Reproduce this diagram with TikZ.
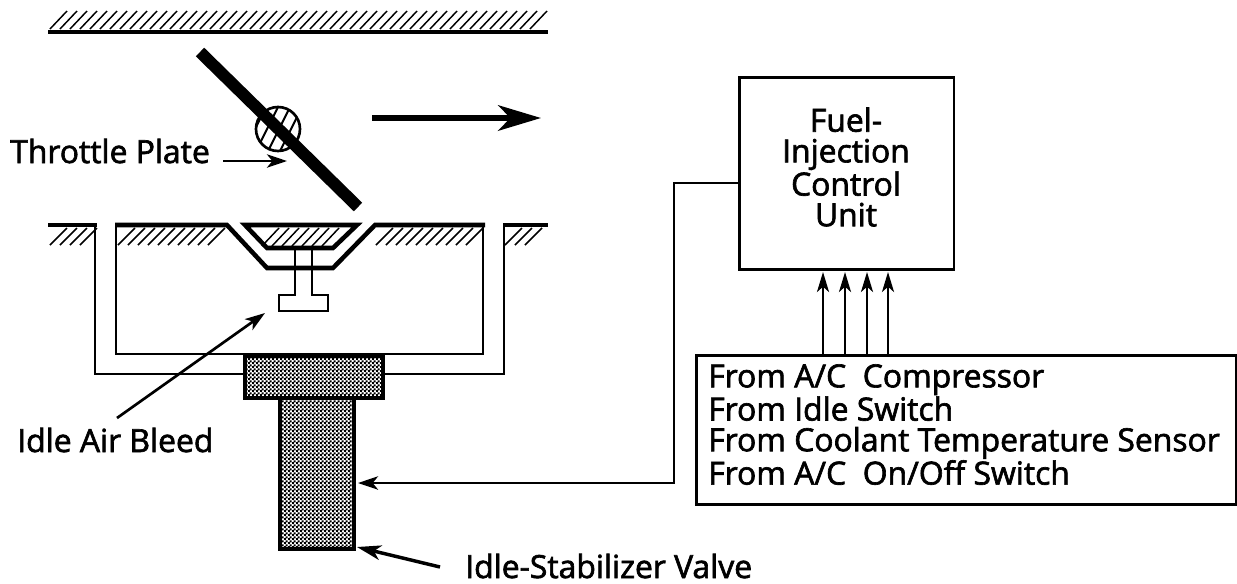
\documentclass[tikz,border=0pt]{standalone}
\usepackage{fontspec}
\setmainfont{Open Sans}[RawFeature={embolden=2}]
\usetikzlibrary{arrows.meta,patterns}
\pgfdeclarepatternformonly{dither}{\pgfqpoint{0pt}{0pt}}{\pgfqpoint{3pt}{3pt}}{\pgfqpoint{3pt}{3pt}}{
  \pgfpathrectangle{\pgfqpoint{0pt}{0pt}}{\pgfqpoint{1.8pt}{1.8pt}}
  \pgfpathrectangle{\pgfqpoint{1.5pt}{1.5pt}}{\pgfqpoint{1.8pt}{1.8pt}}
  \pgfusepath{fill}}
\tikzset{
  wall/.style={line width=3.4pt},
  thin wire/.style={line width=2pt},
  hatchline/.style={line width=1.1pt},
  lab/.style={inner sep=0pt,font=\fontsize{23.9}{29}\selectfont,text=black},
  solid block/.style={draw=black,line width=3pt,pattern=dither,pattern color=black},
  ptr/.style={line width=2pt,-{Stealth[length=15pt,width=10pt,inset=4pt]}},
}
\begin{document}
\begin{tikzpicture}[x=0.75pt,y=-0.75pt]
\useasboundingbox (0,0) rectangle (1237,583);
% top wall
\draw[wall] (48,32) -- (548,32);
\foreach \hx in {50,60,...,530}{\draw[hatchline] (\hx,29) -- ({\hx+17},11);}
% lower walls
\draw[wall] (48,225) -- (97,225);
\draw[wall] (115,225) -- (227,225) -- (267,268) -- (333,268) -- (375,225) -- (485,225);
\draw[wall] (503,225) -- (548,225);
\draw[wall] (245,225) -- (357,225) -- (333,248) -- (267,248) -- cycle;
\foreach \hx in {50,60,...,80}{\draw[hatchline] (\hx,245) -- ({\hx+17},228);}
\foreach \hx in {118,128,...,208}{\draw[hatchline] (\hx,245) -- ({\hx+17},228);}
\foreach \hx in {376,386,...,466}{\draw[hatchline] (\hx,245) -- ({\hx+17},228);}
\foreach \hx in {505,515,525}{\draw[hatchline] (\hx,245) -- ({\hx+17},228);}
\foreach \hx in {262,272,...,322}{\draw[hatchline] (\hx,246) -- ({\hx+17},228);}
% channels
\draw[thin wire] (116,225) -- (116,354) -- (483,354) -- (483,225);
\draw[thin wire] (95,225) -- (95,374) -- (243,374);
\draw[thin wire] (381,374) -- (504,374) -- (504,225);
% idle valve pin
\draw[thin wire] (295,248) -- (295,295) -- (279,295) -- (279,311) -- (328,311) -- (328,295) -- (312,295) -- (312,248);
% solenoid
\node[solid block,minimum width=103.5pt,minimum height=31.5pt,inner sep=0pt,anchor=north west] (block) at (243,354) {};
\node[solid block,minimum width=55.5pt,minimum height=113pt,inner sep=0pt,anchor=north west] (valve) at (278,396) {};
% throttle
\node[circle,draw=black,line width=2pt,minimum size=33pt,inner sep=0pt] (shaft) at (278,129) {};
\begin{scope}
\clip (278,129) circle (22);
\foreach \hx in {228,240,...,310}{\draw[line width=1.5pt] (\hx,159) -- ({\hx+30},99);}
\end{scope}
\draw[line width=9pt] (200,52) -- (358,207);
\coordinate (flowa) at (372,118); \coordinate (flowb) at (541,118);
\draw[line width=4.5pt,-{Stealth[length=32pt,width=19pt,inset=9pt]}] (flowa) -- (flowb);
% labels
\node[lab,anchor=base west] (tp) at (10,163) {Throttle Plate};
\coordinate (tph) at (287,161);
\draw[ptr] (223,161) -- (tph);
\node[lab,anchor=base west] (iab) at (17,452) {Idle Air Bleed};
\coordinate (iabh) at (265,313);
\draw[ptr] (117,418) -- (iabh);
\node[lab,anchor=base west] (isv) at (465,578) {Idle-Stabilizer Valve};
\coordinate (isvh) at (357,547);
\draw[line width=2.6pt,-{Stealth[length=18pt,width=11pt,inset=5pt]}] (440,567) -- (isvh);
% ecu
\node[draw=black,thin wire,minimum width=161pt,minimum height=144pt,inner sep=0pt,anchor=north west] (ecu) at (738,76) {};
\node[lab,align=center,font=\fontsize{23.9}{23}\selectfont] (ecutext) at (846,167) {Fuel-\\Injection\\Control\\Unit};
\node[draw=black,thin wire,minimum width=405pt,minimum height=112pt,inner sep=0pt,anchor=north west] (src) at (695,354) {};
\node[lab,anchor=north west,align=left,font=\fontsize{23.9}{23}\selectfont] (txt) at (708,364) {From A/C\ \ Compressor\\From Idle Switch\\From Coolant Temperature Sensor\\From A/C\ \ On/Off Switch};
\foreach \ax in {823,845,867,888}{
  \draw[thin wire,-{Stealth[length=15pt,width=9pt,inset=4pt]}] (\ax,354) -- (\ax,272);}
\draw[thin wire,-{Stealth[length=15pt,width=10pt,inset=4pt]}] (ecu.west|-0,183) -- (674,183) -- (674,483) -- (358,483);
\end{tikzpicture}
\end{document}
